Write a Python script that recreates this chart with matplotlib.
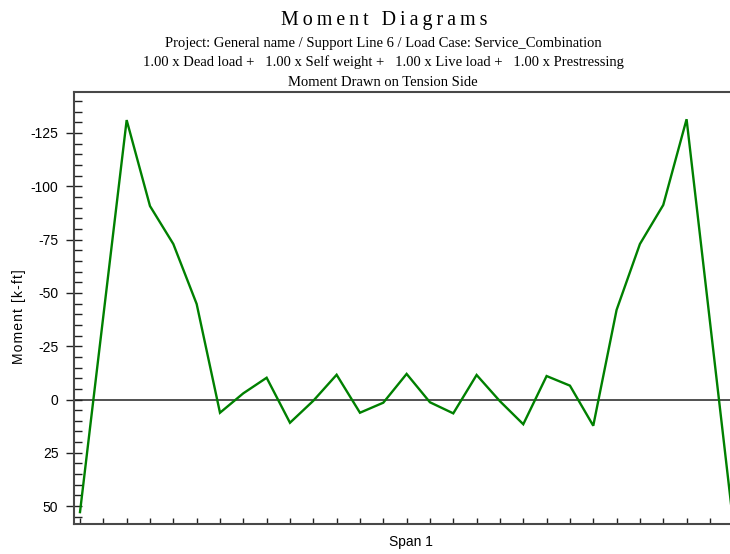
import matplotlib
matplotlib.use("Agg")
import matplotlib.pyplot as plt
from matplotlib.ticker import FixedLocator, MultipleLocator, FuncFormatter

# Station index along the span (tick units) and moment values [k-ft]
stations = [0, 2, 3, 4, 5, 6, 7, 8, 9, 10, 11, 12, 13, 14, 15, 16, 17,
            18, 19, 20, 21, 22, 23, 24, 25, 26, 28]
moments = [52.8, -131.0, -90.7, -72.9, -44.8, 6.2, -2.9, -10.2, 10.9, 0.6,
           -11.6, 6.2, 1.5, -12.0, 1.3, 6.5, -11.5, 0.8, 11.6, -11.0, -6.5,
           12.3, -42.0, -72.9, -91.2, -131.4, 58.0]

y_ticks = [-125, -100, -75, -50, -25, 0, 25, 50]
x_ticks = list(range(0, 28))

title = "Moment Diagrams"
subtitle_lines = [
    "Project: General name / Support Line 6 / Load Case: Service_Combination",
    "1.00 x Dead load +   1.00 x Self weight +   1.00 x Live load +   1.00 x Prestressing",
    "Moment Drawn on Tension Side",
]
y_label = "Moment [k-ft]"
x_label = "Span 1"

W, H = 730, 554
fig = plt.figure(figsize=(W / 100, H / 100), dpi=100)

def fx(px):
    return px / W

def fy(py):
    return 1 - py / H

ax_left, ax_right, ax_top, ax_bottom = 74, 730, 92, 524
ax = fig.add_axes([fx(ax_left), fy(ax_bottom), fx(ax_right - ax_left),
                   (ax_bottom - ax_top) / H])

x0_px, dx_px = 80.0, 23.33
zero_px, dy_px = 399.5, 2.133
ax.set_xlim((ax_left - x0_px) / dx_px, (ax_right - x0_px) / dx_px)
ax.set_ylim((ax_bottom - zero_px) / dy_px, (ax_top - zero_px) / dy_px)

ax.axhline(0, color="#222222", lw=1.1, zorder=2)
ax.plot(stations, moments, color="#008000", lw=1.7, zorder=3,
        solid_joinstyle="miter")

spine_c = "#484848"
for side in ("left", "top", "bottom"):
    ax.spines[side].set_color(spine_c)
    ax.spines[side].set_linewidth(1.5)
ax.spines["right"].set_visible(False)

ax.yaxis.set_major_locator(FixedLocator(y_ticks))
ax.yaxis.set_minor_locator(MultipleLocator(5))
ax.yaxis.set_major_formatter(FuncFormatter(lambda v, p: f"{int(v)}".replace("\u2212", "-")))
ax.tick_params(axis="y", which="major", direction="inout", length=11.5,
               width=1.0, color="#222222", labelsize=10, pad=5.5)
ax.tick_params(axis="y", which="minor", direction="in", length=5.8,
               width=1.0, color="#222222")
for lab in ax.get_yticklabels():
    lab.set_family(["Liberation Sans", "DejaVu Sans"])

ax.xaxis.set_major_locator(FixedLocator(x_ticks))
ax.tick_params(axis="x", which="major", direction="in", length=4.3,
               width=1.0, color="#222222", labelbottom=False)

def spaced(s, sep="\u200a"):
    return sep.join(s)

serif = ["Liberation Serif", "DejaVu Serif"]
sans = ["Liberation Sans", "DejaVu Sans"]

fig.text(fx(384.5), fy(20), spaced(title, "\u2009"), ha="center", va="center",
         fontsize=14.4, family=serif)
for i, line in enumerate(subtitle_lines):
    fig.text(fx(383), fy(43 + i * 19.5), line, ha="center", va="center",
             fontsize=10.5, family=serif)

fig.text(fx(19), fy(317), spaced(y_label), rotation=90, ha="center",
         va="center", fontsize=10, family=sans)
fig.text(fx(411), fy(542), x_label, ha="center", va="center",
         fontsize=10, family=sans)

fig.savefig("out.png", dpi=100)
